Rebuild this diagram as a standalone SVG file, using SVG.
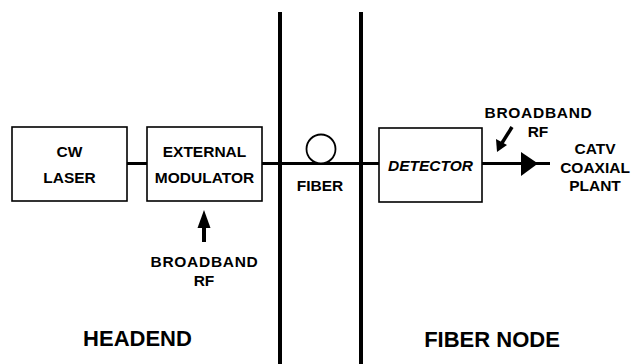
<svg xmlns="http://www.w3.org/2000/svg" width="635" height="364" viewBox="0 0 635 364">
<style>
.box{fill:#fff;stroke:#000;stroke-width:1.6}
.t{font-family:"Liberation Sans",Arial,sans-serif;font-weight:bold;font-size:15.5px;text-anchor:middle;fill:#000}
.sp{letter-spacing:0.7px}
.big{font-family:"Liberation Sans",Arial,sans-serif;font-weight:bold;font-size:22px;text-anchor:middle;fill:#000}
.w{stroke:#000;stroke-width:3;fill:none}
.wall{stroke:#000;stroke-width:4;fill:none}
</style>
<g id="walls">
<line class="wall" x1="280" y1="12" x2="280" y2="364"/>
<line class="wall" x1="361" y1="12" x2="361" y2="364"/>
</g>
<g id="connectors">
<line class="w" x1="127" y1="163.5" x2="147" y2="163.5"/>
<line class="w" x1="262" y1="163.5" x2="379" y2="163.5"/>
<line class="w" x1="482" y1="163.5" x2="550" y2="163.5"/>
<path d="M521,152 L538,163.5 L521,176 Z" fill="#000"/>
<line stroke="#000" stroke-width="4" x1="204" y1="242" x2="204" y2="225"/>
<path d="M197.5,228 L204,210 L210.5,228 Z" fill="#000"/>
<line stroke="#000" stroke-width="3.5" x1="512" y1="127" x2="502" y2="143"/>
<path d="M496,139 L497,152 L507,145 Z" fill="#000"/>
</g>
<g id="fiber">
<circle cx="321" cy="149" r="14.5" fill="#fff" stroke="#000" stroke-width="1.8"/>
<text class="t" x="320" y="190.5">FIBER</text>
</g>
<g id="cw-laser">
<rect class="box" x="12" y="127" width="115" height="74"/>
<text class="t" x="69.5" y="157">CW</text>
<text class="t" x="69.5" y="182.5">LASER</text>
</g>
<g id="external-modulator">
<rect class="box" x="147" y="127" width="115" height="74"/>
<text class="t" x="204.5" y="157">EXTERNAL</text>
<text class="t" x="204.5" y="182.5">MODULATOR</text>
</g>
<g id="rf-in">
<text class="t sp" x="204.5" y="266.5">BROADBAND</text>
<text class="t" x="204" y="285.5">RF</text>
</g>
<g id="detector">
<rect class="box" x="379" y="128" width="103" height="74"/>
<text class="t" x="430.5" y="170.5" font-style="italic">DETECTOR</text>
</g>
<g id="rf-out">
<text class="t sp" x="538.5" y="117.5">BROADBAND</text>
<text class="t" x="538" y="136.5">RF</text>
</g>
<g id="catv">
<text class="t" x="595" y="153.5">CATV</text>
<text class="t" x="595" y="172.5">COAXIAL</text>
<text class="t" x="595" y="190.5">PLANT</text>
</g>
<g id="labels">
<text class="big" x="137.5" y="346">HEADEND</text>
<text class="big" x="492" y="347">FIBER NODE</text>
</g>
</svg>
